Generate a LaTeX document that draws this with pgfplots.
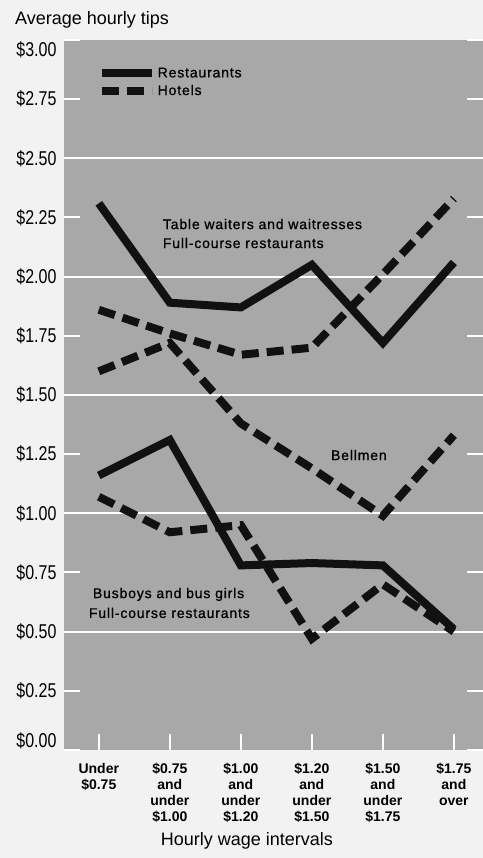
\documentclass[border=0pt]{standalone}
\usepackage{pgfplots}
\pgfplotsset{compat=1.18}
\usepackage{fontspec}
\setmainfont{Liberation Sans}
\newfontfamily\condfont{Liberation Sans}[FakeStretch=0.8]
\newfontfamily\annfont{Liberation Sans}[LetterSpace=6,FakeBold=0.8]
\usetikzlibrary{backgrounds}
\definecolor{plotbg}{RGB}{168,168,168}
\definecolor{pagebg}{RGB}{242,242,242}
\definecolor{ink}{RGB}{17,17,17}
\begin{document}
\begin{tikzpicture}
\begin{axis}[name=ax, scale only axis, width=419pt, height=710pt,
  xmin=-0.49, xmax=5.41, ymin=0, ymax=3,
  axis background/.style={fill=plotbg},
  axis line style={draw=none},
  tick align=inside,
  major tick length=16pt,
  xtick={0,1,2,3,4,5},
  xticklabels={{Under\\\$0.75}, {\$0.75\\and\\under\\\$1.00}, {\$1.00\\and\\under\\\$1.20}, {\$1.20\\and\\under\\\$1.50}, {\$1.50\\and\\under\\\$1.75}, {\$1.75\\and\\over}},
  xtick pos=left,
  xticklabel style={align=center, font=\fontsize{14}{16}\selectfont\bfseries, yshift=-10pt},
  ytick={0,0.25,0.5,0.75,1,1.25,1.5,1.75,2,2.25,2.5,2.75,3},
  yticklabels={\raisebox{3pt}[0pt][0pt]{\$0.00},\$0.25,\$0.50,\$0.75,\$1.00,\$1.25,\$1.50,\$1.75,\$2.00,\$2.25,\$2.50,\$2.75,\raisebox{-17pt}[0pt][0pt]{\$3.00}},
  yticklabel style={font=\fontsize{20}{22}\condfont, xshift=-4pt},
  tick style={white, line width=2pt},
  extra y ticks={0.5,1,1.5,2,2.5},
  extra y tick labels={},
  extra y tick style={grid=major},
  major grid style={white, line width=2pt},
  legend cell align=left,
  legend image code/.code={\draw[#1] (0pt,0pt) -- (50pt,0pt);},
  legend style={draw=none, fill=none, at={(axis description cs:0.08,0.964)}, anchor=north west,
    font=\annfont\fontsize{14}{16}\selectfont, row sep=2pt, inner sep=0pt},
]
\addplot[ink, line width=8pt, line join=miter] coordinates {(0,2.31) (1,1.89) (2,1.87) (3,2.05) (4,1.72) (5,2.06)};
\addlegendentry{Restaurants}
\addplot[ink, line width=8pt, line join=miter, dash pattern=on 17pt off 8pt] coordinates {(0,1.86) (1,1.76) (2,1.67) (3,1.70) (4,2.01) (5,2.33)};
\addlegendentry{Hotels}
\addplot[ink, line width=8pt, line join=miter, dash pattern=on 17pt off 8pt, forget plot] coordinates {(0,1.60) (1,1.72) (2,1.38) (3,1.19) (4,0.99) (5,1.33)};
\addplot[ink, line width=8pt, line join=miter, forget plot] coordinates {(0,1.16) (1,1.31) (2,0.78) (3,0.79) (4,0.78) (5,0.51)};
\addplot[ink, line width=8pt, line join=miter, dash pattern=on 17pt off 8pt, forget plot] coordinates {(0,1.07) (1,0.92) (2,0.95) (3,0.47) (4,0.70) (5,0.50)};
\node[anchor=base west, inner sep=0pt, font=\annfont\fontsize{14}{16}\selectfont] at (axis cs:0.90,2.201) {Table waiters and waitresses};
\node[anchor=base west, inner sep=0pt, font=\annfont\fontsize{14}{16}\selectfont] at (axis cs:0.90,2.121) {Full-course restaurants};
\node[anchor=base west, inner sep=0pt, font=\annfont\fontsize{14}{16}\selectfont] at (axis cs:3.268,1.225) {Bellmen};
\node[anchor=base west, inner sep=0pt, font=\annfont\fontsize{14}{16}\selectfont] at (axis cs:-0.085,0.642) {Busboys and bus girls};
\node[anchor=base west, inner sep=0pt, font=\annfont\fontsize{14}{16}\selectfont] at (axis cs:-0.141,0.558) {Full-course restaurants};
\end{axis}
\node[anchor=west, inner sep=0pt, font=\fontsize{18}{20}\selectfont] at ([xshift=-49pt,yshift=20pt]ax.north west) {Average hourly tips};
\node[anchor=center, inner sep=0pt, font=\fontsize{18}{20}\selectfont] at ([xshift=183pt,yshift=-91pt]ax.south west) {Hourly wage intervals};
\pgfresetboundingbox
\path[use as bounding box] ([xshift=-64pt,yshift=-108pt]ax.south west) rectangle ([yshift=40pt]ax.north east);
\begin{scope}[on background layer]
\fill[pagebg] ([xshift=-64pt,yshift=-108pt]ax.south west) rectangle ([yshift=40pt]ax.north east);
\end{scope}
\end{tikzpicture}
\end{document}
